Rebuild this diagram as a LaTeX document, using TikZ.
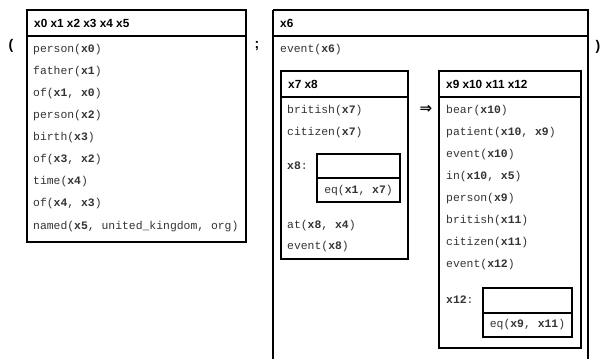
\documentclass[tikz,border=0pt]{standalone}
\usepackage{fontspec}
\newfontfamily\monof{Liberation Mono}
\newfontfamily\headf{Liberation Sans}
\newfontfamily\symf{DejaVu Sans}
\newcommand\V[1]{\textbf{#1}}
\tikzset{
  box/.style={draw, line width=1.1pt},
  pred/.style={anchor=west, inner sep=0pt, text height=8pt, text depth=2.5pt,
    font=\monof\fontsize{11.4}{13}\selectfont, text=black!80},
  hdr/.style={anchor=west, inner sep=0pt, text height=8.5pt, text depth=0pt,
    font=\headf\bfseries\fontsize{11.8}{13}\selectfont},
  eqtext/.style={inner sep=0pt, text height=8pt, text depth=2.5pt,
    font=\monof\fontsize{11.4}{13}\selectfont, text=black!80},
  punct/.style={inner sep=0pt, font=\headf\bfseries\fontsize{14}{15}\selectfont}
}
\begin{document}
\begin{tikzpicture}[x=1pt,y=-1pt]
\useasboundingbox (0,0) rectangle (601,358);
\begin{scope}
\clip (0,0) rectangle (601,358);
% left box
\draw[box] (27,10) rectangle (246,242);
\draw[box] (27,36) -- (246,36);
% big right box (bottom edge off the page)
\draw[box] (273,10) -- (588,10) -- (588,370) (273,10) -- (273,370);
\draw[box] (273,36) -- (588,36);
% inner left box
\draw[box] (281,71) rectangle (408,259);
\draw[box] (281,97) -- (408,97);
% x8 box
\draw[box] (317,154) rectangle (400,202);
\draw[box] (317,178) -- (400,178);
% inner right box
\draw[box] (439,71) rectangle (581,348);
\draw[box] (439,97) -- (581,97);
% x12 box
\draw[box] (483,288) rectangle (572,337);
\draw[box] (483,313) -- (572,313);
\end{scope}

\node[punct] (lp) at (11,46) {(};
\node[punct] (semi) at (257,46) {;};
\node[punct] (rp) at (598,47) {)};
\node[inner sep=0pt, font=\symf\bfseries\fontsize{15}{16}\selectfont] (impl) at (426,109) {⇒};

% left box text
\node[hdr] (h1) at (34,23) {x0 x1 x2 x3 x4 x5};
\node[pred] (a1) at (33,49.5) {person(\V{x0})};
\node[pred] (a2) at (33,71.6) {father(\V{x1})};
\node[pred] (a3) at (33,93.7) {of(\V{x1}, \V{x0})};
\node[pred] (a4) at (33,115.8) {person(\V{x2})};
\node[pred] (a5) at (33,137.9) {birth(\V{x3})};
\node[pred] (a6) at (33,160) {of(\V{x3}, \V{x2})};
\node[pred] (a7) at (33,182.1) {time(\V{x4})};
\node[pred] (a8) at (33,204.2) {of(\V{x4}, \V{x3})};
\node[pred] (a9) at (33,226.3) {named(\V{x5}, united\_kingdom, org)};

% right big box
\node[hdr] (h2) at (280,23) {x6};
\node[pred] (b1) at (280,50) {event(\V{x6})};

% inner left
\node[hdr] (h3) at (288,84) {x7 x8};
\node[pred] (c1) at (287,111) {british(\V{x7})};
\node[pred] (c2) at (287,132.5) {citizen(\V{x7})};
\node[pred] (c3) at (287,167) {\V{x8}:};
\node[eqtext] (c4) at (358.5,190.5) {eq(\V{x1}, \V{x7})};
\node[pred] (c5) at (287,226) {at(\V{x8}, \V{x4})};
\node[pred] (c6) at (287,247) {event(\V{x8})};

% inner right
\node[hdr] (h4) at (446,84) {x9 x10 x11 x12};
\node[pred] (d1) at (446,110.5) {bear(\V{x10})};
\node[pred] (d2) at (446,132.5) {patient(\V{x10}, \V{x9})};
\node[pred] (d3) at (446,154.5) {event(\V{x10})};
\node[pred] (d4) at (446,176.5) {in(\V{x10}, \V{x5})};
\node[pred] (d5) at (446,198.5) {person(\V{x9})};
\node[pred] (d6) at (446,220.5) {british(\V{x11})};
\node[pred] (d7) at (446,242.5) {citizen(\V{x11})};
\node[pred] (d8) at (446,264.5) {event(\V{x12})};
\node[pred] (d9) at (446,301) {\V{x12}:};
\node[eqtext] (d10) at (527.5,325) {eq(\V{x9}, \V{x11})};
\end{tikzpicture}
\end{document}
